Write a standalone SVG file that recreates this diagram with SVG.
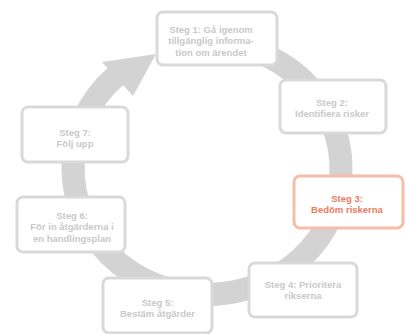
<svg xmlns="http://www.w3.org/2000/svg" width="405" height="334" viewBox="0 0 405 334">
<style>
.box rect{fill:#ffffff;stroke:#d9d9d9;stroke-width:3}
.box text{font-family:"Liberation Sans",Arial,sans-serif;font-weight:bold;font-size:9.5px;fill:#c9c9c9;text-anchor:middle}
#step3 rect{stroke:#f8bda6}
#step3 text{fill:#ec7a5e}
.ring{fill:none;stroke:#d3d3d3;stroke-width:23}
</style>
<rect width="405" height="334" fill="#ffffff"/>
<g id="connectors">
<path class="ring" d="M 227.3 43.9 A 134 126 0 1 1 116 76"/>
<polygon points="102,62 156,54 133,96" fill="#d3d3d3"/>
</g>
<g id="step1" class="box"><rect x="157" y="12" width="120" height="53" rx="6"/><text x="211" y="32.5">Steg 1: Gå igenom</text><text x="211" y="44">tillgänglig informa-</text><text x="211" y="55.5">tion om ärendet</text></g>
<g id="step2" class="box"><rect x="280" y="80" width="106" height="53" rx="6"/><text x="332" y="105.5">Steg 2:</text><text x="332" y="117">Identifiera risker</text></g>
<g id="step3" class="box"><rect x="294" y="176" width="109" height="52" rx="6"/><text x="347" y="201.5">Steg 3:</text><text x="347" y="213">Bedöm riskerna</text></g>
<g id="step4" class="box"><rect x="249" y="263" width="108" height="54" rx="6"/><text x="303" y="287.5">Steg 4: Prioritera</text><text x="303" y="299">rikserna</text></g>
<g id="step5" class="box"><rect x="103" y="278" width="109" height="55" rx="6"/><text x="157.5" y="305.5">Steg 5:</text><text x="157.5" y="317">Bestäm åtgärder</text></g>
<g id="step6" class="box"><rect x="17" y="197" width="108" height="55" rx="6"/><text x="72" y="218.5">Steg 6:</text><text x="72" y="230">För in åtgärderna i</text><text x="72" y="241.5">en handlingsplan</text></g>
<g id="step7" class="box"><rect x="22" y="107" width="106" height="55" rx="6"/><text x="75" y="135.5">Steg 7:</text><text x="75" y="147">Följ upp</text></g>
</svg>
